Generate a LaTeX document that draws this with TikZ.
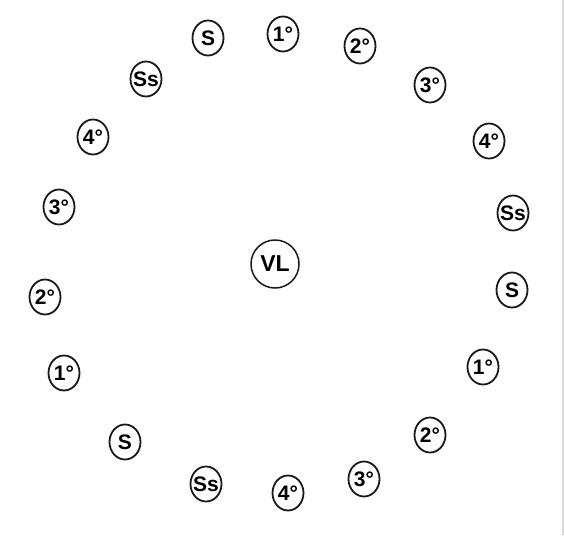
\documentclass[tikz,border=0pt]{standalone}
\usepackage{fontspec}
\setmainfont{Liberation Sans}
\usetikzlibrary{shapes.geometric}
\begin{document}
\begin{tikzpicture}[x=1pt,y=-1pt,
  lbl/.style={draw=black!90,line width=1.8pt,ellipse,inner sep=0pt,
    minimum width=31pt,minimum height=35pt,
    font=\fontsize{21}{21}\bfseries\selectfont},
  centre/.style={draw=black!90,line width=1.5pt,circle,inner sep=0pt,
    minimum size=48pt,font=\fontsize{23}{23}\bfseries\selectfont}]
\useasboundingbox (0,0) rectangle (564,535);
\fill[white] (0,0) rectangle (564,535);
\draw[black!15,line width=1.2pt] (563,0) -- (563,535);
\newcommand{\lab}[3]{\node[lbl] (#1) at #2 {\makebox[0pt]{#3}};}
\lab{a1}{(208,38)}{S}
\lab{a2}{(283,34)}{1°}
\lab{a3}{(360,46)}{2°}
\lab{a4}{(430,85)}{3°}
\lab{a5}{(489,141)}{4°}
\lab{a6}{(513,213)}{Ss}
\lab{a7}{(512,290)}{S}
\lab{a8}{(483,367)}{1°}
\lab{a9}{(430,435)}{2°}
\lab{a10}{(364,479)}{3°}
\lab{a11}{(288,493)}{4°}
\lab{a12}{(206,484)}{Ss}
\lab{a13}{(125,442)}{S}
\lab{a14}{(64,373)}{1°}
\lab{a15}{(45,297)}{2°}
\lab{a16}{(59,207)}{3°}
\lab{a17}{(93,137)}{4°}
\lab{a18}{(146,79)}{Ss}
\node[centre] (vl) at (275,264) {VL};
\end{tikzpicture}
\end{document}
